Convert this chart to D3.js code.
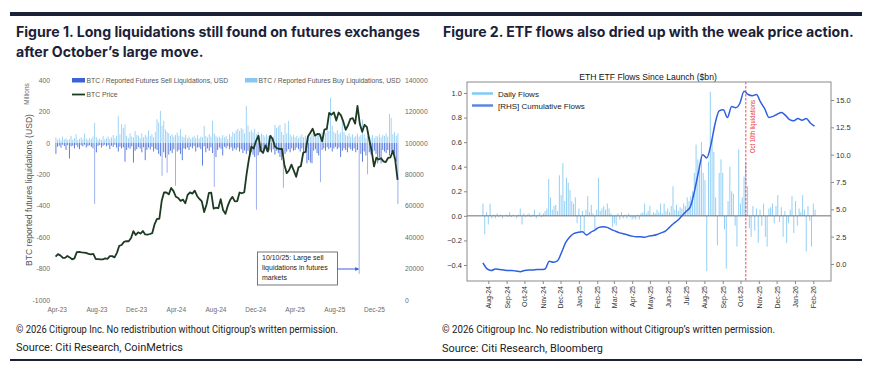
<!DOCTYPE html>
<html>
<head>
<meta charset="utf-8">
<script src="https://cdn.jsdelivr.net/npm/d3@7"></script>
<style>
  body { margin: 0; background: #fff; }
</style>
</head>
<body>
<svg id="chart" width="869" height="375" font-family="'Liberation Sans', Arial, sans-serif"></svg>
<script>
// ---------- Figure 1 data ----------
// liquidations, USD millions, one value every 5 days from 23 Apr 2023
const sellLiq = [
  -70, -25, -18, -30, -12, -20, -45, -15, -100, -22,
  -18, -35, -14, -28, -40, -16, -22, -12, -30, -20,
  -15, -25, -35, -388, -60, -20, -14, -30, -18, -12,
  -22, -15, -40, -18, -26, -12, -30, -55, -24, -35,
  -28, -120, -45, -30, -38, -22, -125, -50, -40, -26,
  -35, -60, -28, -110, -45, -30, -42, -25, -55, -38,
  -45, -70, -85, -210, -60, -95, -190, -75, -50, -65,
  -40, -273, -55, -45, -70, -110, -35, -40, -30, -45,
  -25, -35, -20, -55, -30, -28, -40, -145, -22, -60,
  -35, -50, -28, -65, -280, -90, -45, -30, -38, -80,
  -25, -35, -22, -40, -28, -50, -35, -45, -30, -55,
  -40, -65, -48, -70, -50, -85, -60, -75, -90, -426,
  -80, -60, -45, -70, -40, -55, -35, -48, -60, -40,
  -75, -50, -65, -90, -110, -286, -70, -55, -40, -60,
  -35, -50, -45, -30, -40, -55, -35, -60, -45, -130,
  -110, -125, -130, -50, -40, -65, -80, -250, -45, -35,
  -50, -28, -40, -30, -55, -35, -25, -40, -30, -90,
  -50, -35, -45, -60, -30, -40, -50, -35, -60, -45,
  -834, -70, -120, -55, -80, -200, -60, -75, -60, -50,
  -70, -130, -95, -130, -45, -55, -65, -45, -80, -60,
  -50, -70, -120, -390
];
const buyLiq = [
  35, 20, 28, 15, 40, 22, 30, 18, 25, 45,
  20, 30, 55, 18, 25, 35, 22, 60, 28, 20,
  30, 25, 40, 127, 35, 20, 28, 18, 45, 22,
  30, 40, 25, 35, 50, 28, 45, 172, 55, 120,
  95, 118, 45, 30, 60, 40, 35, 75, 50, 45,
  30, 60, 35, 50, 40, 80, 45, 55, 35, 70,
  150, 130, 204, 110, 140, 85, 70, 60, 45, 55,
  40, 50, 65, 45, 88, 40, 35, 50, 30, 40,
  25, 35, 45, 30, 50, 28, 40, 35, 108, 45,
  35, 55, 40, 140, 60, 45, 35, 40, 30, 50,
  35, 45, 25, 55, 40, 70, 60, 80, 90, 75,
  95, 85, 60, 235, 110, 70, 80, 65, 90, 55,
  70, 45, 60, 50, 40, 55, 45, 35, 50, 40,
  115, 95, 105, 115, 70, 50, 125, 60, 140, 55,
  40, 50, 35, 45, 30, 40, 55, 35, 45, 30,
  50, 40, 60, 80, 45, 55, 65, 50, 70, 90,
  60, 85, 75, 286, 110, 70, 60, 80, 55, 65,
  150, 70, 50, 45, 60, 40, 55, 35, 45, 60,
  40, 50, 150, 55, 30, 45, 40, 35, 50, 30,
  45, 40, 55, 35, 50, 45, 60, 40, 185, 160,
  55, 70, 45, 60
];
// BTC price in thousands USD, weekly from 22 Apr 2023
const btcPriceK = [
  27.6, 29.2, 28.4, 26.9, 26.8, 28.0, 27.1, 25.9, 26.5, 30.5,
  30.6, 30.3, 30.2, 30.0, 29.3, 29.0, 29.3, 26.1, 26.0, 25.9,
  25.8, 26.5, 26.2, 27.9, 27.9, 27.1, 30.0, 34.5, 35.0, 37.0,
  37.4, 37.4, 39.5, 43.8, 41.4, 43.0, 42.3, 43.9, 41.7, 41.6,
  42.0, 42.6, 48.3, 51.6, 51.7, 63.1, 68.5, 68.4, 67.2, 71.3,
  69.3, 65.7, 64.9, 63.1, 63.9, 61.5, 66.9, 68.5, 67.7, 69.6,
  66.2, 64.3, 62.7, 56.0, 60.8, 68.2, 68.3, 58.1, 58.7, 58.4,
  64.2, 57.3, 54.8, 59.9, 63.6, 65.6, 62.8, 62.9, 68.4, 67.9,
  68.6, 80.2, 89.9, 97.6, 96.4, 101.2, 104.5, 95.1, 93.7, 98.4,
  94.5, 104.5, 102.6, 97.7, 96.5, 96.1, 96.2, 86.1, 80.7, 82.6,
  86.1, 82.3, 78.4, 84.5, 85.2, 93.7, 94.3, 104.0, 106.4, 109.0,
  104.6, 105.7, 105.5, 101.0, 108.4, 108.9, 119.1, 117.9, 119.4, 114.2,
  119.3, 117.5, 113.5, 108.3, 111.2, 115.3, 115.7, 112.2, 123.5, 112.0,
  107.0, 111.5, 110.0, 102.0, 95.0, 85.0, 90.5, 89.4, 90.2, 88.2,
  87.8, 90.5, 90.8, 95.0, 89.2, 76.5
];
const liqTicks = [-1000, -800, -600, -400, -200, 0, 200, 400];
const priceTicks = [0, 20000, 40000, 60000, 80000, 100000, 120000, 140000];
const fig1Months = ["Apr-23", "Aug-23", "Dec-23", "Apr-24", "Aug-24", "Dec-24", "Apr-25", "Aug-25", "Dec-25"];

// ---------- Figure 2 data ----------
// daily ETF flows ($bn), one value every 3 days from 23 Jul 2024
const dailyFlows = [
  0.10, -0.15, 0.03, -0.07, 0.10, -0.02, 0.01, -0.02, 0.02, -0.01,
  0.01, -0.02, 0.00, 0.01, -0.01, 0.03, -0.01, 0.01, 0.00, -0.02,
  0.01, 0.06, -0.07, 0.02, -0.01, 0.01, 0.02, -0.01, 0.01, 0.05,
  -0.02, 0.01, 0.03, -0.01, 0.02, 0.04, 0.06, 0.30, 0.15, 0.05,
  0.08, 0.09, 0.04, 0.33, 0.17, 0.43, 0.12, 0.31, 0.27, 0.21,
  0.12, 0.10, 0.15, -0.06, 0.06, -0.13, 0.04, -0.13, 0.05, 0.16,
  0.03, 0.09, 0.02, -0.11, 0.05, 0.31, 0.04, 0.06, 0.08, 0.05,
  0.10, 0.06, 0.02, -0.09, -0.06, -0.08, 0.02, -0.03, 0.03, -0.02,
  0.01, -0.02, 0.02, -0.01, -0.03, -0.02, -0.03, 0.01, -0.03, 0.02,
  0.03, 0.10, 0.02, 0.04, 0.08, 0.01, 0.03, 0.02, 0.05, 0.03,
  0.10, 0.02, 0.10, 0.04, 0.06, 0.03, 0.08, 0.24, 0.05, 0.09,
  0.04, 0.07, 0.06, 0.10, 0.08, 0.15, 0.12, 0.16, 0.20, 0.35,
  0.58, 0.46, 0.37, 0.60, 0.35, 0.29, -0.45, 0.44, 1.01, 0.62,
  0.52, 0.15, -0.24, 0.35, 0.46, 0.35, -0.11, -0.43, 0.12, 0.40,
  0.20, 0.18, -0.08, -0.25, 0.54, 0.10, 0.15, 0.32, 0.43, 0.24,
  -0.10, -0.17, 0.08, -0.12, 0.06, -0.22, 0.05, -0.08, 0.10, -0.17,
  -0.25, 0.06, 0.07, 0.10, -0.06, 0.08, 0.17, -0.05, 0.07, -0.17,
  0.04, -0.22, -0.06, 0.05, 0.16, -0.14, 0.12, -0.08, 0.06, 0.03,
  0.17, 0.05, -0.29, 0.08, -0.04, -0.25, 0.10, 0.05
];
// cumulative flows ($bn), weekly from 23 Jul 2024
const cumFlows = [
  0.1, -0.45, -0.6, -0.45, -0.5, -0.55, -0.6, -0.6, -0.65, -0.7,
  -0.6, -0.55, -0.55, -0.5, -0.5, -0.45, 0.25, 0.15, 0.3, 1.1,
  2.0, 2.5, 2.8, 2.9, 2.95, 2.65, 2.9, 3.1, 3.35, 3.4,
  3.35, 3.15, 3.0, 2.85, 2.75, 2.65, 2.55, 2.5, 2.5, 2.45,
  2.55, 2.6, 2.7, 2.85, 3.0, 3.35, 3.7, 4.0, 4.4, 4.8,
  5.2, 6.6, 8.4, 10.0, 9.7, 10.9, 12.8, 14.0, 14.1, 13.4,
  14.4, 14.3, 14.7, 15.8, 15.5, 15.4, 15.5, 14.8, 14.2, 13.4,
  13.5, 13.7, 13.85, 13.6, 13.2, 13.1, 13.3, 13.15, 13.3, 12.9,
  12.6
];
const flowTicks = [-0.4, -0.2, 0.0, 0.2, 0.4, 0.6, 0.8, 1.0];
const cumTicks = [0, 2.5, 5, 7.5, 10, 12.5, 15];

const NAVY = "#1b2238";
const TITLE_FONT = "Inter, 'Noto Sans', sans-serif";
const FOOT_FONT = "Roboto, 'Noto Sans', sans-serif";
const svg = d3.select("svg#chart");

// rules
svg.append("rect").attr("x", 10).attr("y", 12).attr("width", 852).attr("height", 4).attr("fill", NAVY);
svg.append("rect").attr("x", 10).attr("y", 359).attr("width", 852).attr("height", 2).attr("fill", NAVY);

function fitWidth(sel, w) {
    const fs = parseFloat(sel.attr("font-size"));
    const len = sel.node().getComputedTextLength();
    sel.attr("font-size", fs * w / len);
    return fs * w / len;
}

// titles
const t1 = svg.append("text").attr("x", 16).attr("y", 37)
    .attr("font-family", TITLE_FONT).attr("font-weight", 700)
    .attr("font-size", 12).attr("fill", NAVY)
    .text("Figure 1. Long liquidations still found on futures exchanges");
const t1size = fitWidth(t1, 404);
svg.append("text").attr("x", 16).attr("y", 57)
    .attr("font-family", TITLE_FONT).attr("font-weight", 700)
    .attr("font-size", t1size).attr("fill", NAVY)
    .text("after October’s large move.");
const t2 = svg.append("text").attr("x", 443).attr("y", 37)
    .attr("font-family", TITLE_FONT).attr("font-weight", 700)
    .attr("font-size", 12).attr("fill", NAVY)
    .text("Figure 2. ETF flows also dried up with the weak price action.");
fitWidth(t2, 411);

// footers
const footers = [
    [16, 333, 322, "© 2026 Citigroup Inc. No redistribution without Citigroup’s written permission."],
    [16, 351, 167, "Source: Citi Research, CoinMetrics"],
    [442, 333, 333, "© 2026 Citigroup Inc. No redistribution without Citigroup’s written permission."],
    [442, 352, 161, "Source: Citi Research, Bloomberg"]
];
footers.forEach(f => {
    svg.append("text").attr("x", f[0]).attr("y", f[1])
        .attr("font-family", FOOT_FONT)
        .attr("font-size", f[1] > 340 ? 11 : 10).attr("fill", "#222")
        .attr("textLength", f[2]).attr("lengthAdjust", "spacingAndGlyphs")
        .text(f[3]);
});

// ================= Figure 1 =================
const liqStart = new Date(Date.UTC(2023, 3, 23));
const priceStart = new Date(Date.UTC(2023, 3, 22));
const xL = d3.scaleUtc()
    .domain([new Date(Date.UTC(2023, 7, 17)), new Date(Date.UTC(2025, 9, 10))])
    .range([95, 359.5]);
const xLabel = d3.scaleUtc()
    .domain([new Date(Date.UTC(2023, 3, 1)), new Date(Date.UTC(2025, 11, 1))])
    .range([56.7, 374]);
const yL = d3.scaleLinear().domain([-1000, 400]).range([300, 80]);
const yP = d3.scaleLinear().domain([0, 140000]).range([300, 80]);

const fig1 = svg.append("g").attr("id", "fig1");
const liqDate = i => d3.utcDay.offset(liqStart, i * 5);

fig1.append("g").selectAll("rect").data(sellLiq).join("rect")
    .attr("x", (d, i) => xL(liqDate(i)) - 0.45)
    .attr("width", 0.9)
    .attr("y", yL(0))
    .attr("height", d => yL(d) - yL(0))
    .attr("fill", "#3b62d8")
    .attr("fill-opacity", d => d < -150 ? 0.55 : 0.9);
fig1.append("g").selectAll("rect").data(buyLiq).join("rect")
    .attr("x", (d, i) => xL(liqDate(i)) - 0.45)
    .attr("width", 0.9)
    .attr("y", d => yL(d))
    .attr("height", d => yL(0) - yL(d))
    .attr("fill", "#86c7f3")
    .attr("fill-opacity", 0.85);

const priceLine = d3.line()
    .x((d, i) => xL(d3.utcDay.offset(priceStart, i * 7)))
    .y(d => yP(d * 1000));
fig1.append("path").datum(btcPriceK)
    .attr("fill", "none").attr("stroke", "#1d3a22").attr("stroke-width", 1.8)
    .attr("stroke-linejoin", "round")
    .attr("d", priceLine);

// axes
function styleAxis(g, size, color) {
    g.select(".domain").remove();
    g.attr("font-size", size).attr("font-family", "'Liberation Sans', Arial, sans-serif").attr("color", color);
}
const leftAx = fig1.append("g").attr("transform", "translate(50,0)")
    .call(d3.axisLeft(yL).tickValues(liqTicks).tickSize(0).tickPadding(0).tickFormat(d => String(d)));
styleAxis(leftAx, 6.8, "#6b6b6b");
const rightAx = fig1.append("g").attr("transform", "translate(404,0)")
    .call(d3.axisRight(yP).tickValues(priceTicks).tickSize(0).tickPadding(1).tickFormat(d => String(d)));
styleAxis(rightAx, 6.8, "#6b6b6b");
const monthDates = fig1Months.map((m, k) => d3.utcMonth.offset(new Date(Date.UTC(2023, 3, 1)), 4 * k));
const bottomAx = fig1.append("g").attr("transform", "translate(0,305)")
    .call(d3.axisBottom(xLabel).tickValues(monthDates).tickSize(0).tickPadding(2)
        .tickFormat((d, i) => fig1Months[i]));
styleAxis(bottomAx, 6.5, "#6b6b6b");

fig1.append("text").attr("transform", "translate(29,94) rotate(-90)")
    .attr("text-anchor", "middle").attr("font-size", 6.5).attr("fill", "#6b6b6b")
    .text("Millions");
fig1.append("text").attr("transform", "translate(32,190) rotate(-90)")
    .attr("text-anchor", "middle").attr("font-size", 8.6).attr("fill", "#555")
    .text("BTC reported futures liquidations (USD)");

// legend
const lg = fig1.append("g").attr("font-size", 6.8).attr("fill", "#555");
lg.append("rect").attr("x", 72).attr("y", 78).attr("width", 13).attr("height", 4.5).attr("fill", "#3b62d8");
lg.append("text").attr("x", 86.5).attr("y", 83).text("BTC / Reported Futures Sell Liquidations, USD");
lg.append("rect").attr("x", 245).attr("y", 78).attr("width", 12.5).attr("height", 4.5).attr("fill", "#86c7f3");
lg.append("text").attr("x", 258.5).attr("y", 83).text("BTC / Reported Futures Buy Liquidations, USD");
lg.append("line").attr("x1", 72).attr("x2", 85).attr("y1", 94.5).attr("y2", 94.5)
    .attr("stroke", "#1d3a22").attr("stroke-width", 1.8);
lg.append("text").attr("x", 86.5).attr("y", 97).text("BTC Price");

// annotation
const defs = svg.append("defs");
defs.append("marker").attr("id", "arrow").attr("viewBox", "0 0 6 6")
    .attr("refX", 5).attr("refY", 3).attr("markerWidth", 4).attr("markerHeight", 4)
    .attr("orient", "auto")
    .append("path").attr("d", "M0,0 L6,3 L0,6 Z").attr("fill", "#3b62d8");
const crashX = xL(new Date(Date.UTC(2025, 9, 10)));
fig1.append("line").attr("x1", 337.5).attr("x2", crashX - 1).attr("y1", 269).attr("y2", 269)
    .attr("stroke", "#3b62d8").attr("stroke-width", 1).attr("marker-end", "url(#arrow)");
fig1.append("rect").attr("x", 257.5).attr("y", 252).attr("width", 80).attr("height", 33)
    .attr("fill", "#fff").attr("stroke", "#555").attr("stroke-width", 0.8);
["10/10/25: Large sell", "liquidations in futures", "markets"].forEach((s, k) => {
    fig1.append("text").attr("x", 262).attr("y", 259.5 + k * 10)
        .attr("font-size", 7).attr("fill", "#222").text(s);
});

// ================= Figure 2 =================
const fig2 = svg.append("g").attr("id", "fig2");
const flowStart = new Date(Date.UTC(2024, 6, 23));
const xR = d3.scaleUtc()
    .domain([new Date(Date.UTC(2024, 7, 1)), new Date(Date.UTC(2026, 1, 1))])
    .range([488.3, 813.3]);
const yR = d3.scaleLinear().domain([-0.4, 1.0]).range([265, 93]);
const yC = d3.scaleLinear().domain([0, 15]).range([264, 100]);
const frame = { x0: 467, x1: 831, y0: 82, y1: 281 };

fig2.append("text").attr("x", 648).attr("y", 79.5).attr("text-anchor", "middle")
    .attr("font-size", 8.6).attr("fill", "#111").text("ETH ETF Flows Since Launch ($bn)");

fig2.append("g").selectAll("rect").data(dailyFlows).join("rect")
    .attr("x", (d, i) => xR(d3.utcDay.offset(flowStart, i * 3)) - 0.5)
    .attr("width", 1)
    .attr("y", d => Math.min(yR(d), yR(0)))
    .attr("height", d => Math.abs(yR(d) - yR(0)))
    .attr("fill", "#6fbff2")
    .attr("fill-opacity", 0.75);

fig2.append("line").attr("x1", frame.x0).attr("x2", frame.x1).attr("y1", yR(0)).attr("y2", yR(0))
    .attr("stroke", "#6e6e6e").attr("stroke-width", 1);

const octX = xR(new Date(Date.UTC(2025, 9, 10)));
fig2.append("line").attr("x1", octX).attr("x2", octX).attr("y1", frame.y0).attr("y2", frame.y1)
    .attr("stroke", "#e8343c").attr("stroke-width", 0.9).attr("stroke-dasharray", "2.5,1.5");
fig2.append("text").attr("transform", `translate(${octX + 9},100) rotate(-90)`)
    .attr("text-anchor", "end").attr("font-size", 6.5).attr("fill", "#e8343c")
    .attr("textLength", 53).attr("lengthAdjust", "spacingAndGlyphs")
    .text("Oct 10th liquidations");

const cumLine = d3.line()
    .x((d, i) => xR(d3.utcDay.offset(flowStart, i * 7)))
    .y(d => yC(d))
    .curve(d3.curveMonotoneX);
fig2.append("path").datum(cumFlows)
    .attr("fill", "none").attr("stroke", "#2d5fe0").attr("stroke-width", 1.5)
    .attr("d", cumLine);

fig2.append("rect").attr("x", frame.x0).attr("y", frame.y0)
    .attr("width", frame.x1 - frame.x0).attr("height", frame.y1 - frame.y0)
    .attr("fill", "none").attr("stroke", "#8a8a8a").attr("stroke-width", 1);

const fmt1 = d3.format(".1f");
const rl = fig2.append("g").attr("transform", `translate(${frame.x0},0)`)
    .call(d3.axisLeft(yR).tickValues(flowTicks).tickSize(3).tickPadding(2).tickFormat(fmt1));
styleAxis(rl, 7.5, "#333");
rl.selectAll("line").attr("stroke", "#8a8a8a");
const rr = fig2.append("g").attr("transform", `translate(${frame.x1},0)`)
    .call(d3.axisRight(yC).tickValues(cumTicks).tickSize(3).tickPadding(2).tickFormat(fmt1));
styleAxis(rr, 7.5, "#333");
rr.selectAll("line").attr("stroke", "#8a8a8a");
const rb = fig2.append("g").attr("transform", `translate(0,${frame.y1})`)
    .call(d3.axisBottom(xR)
        .tickValues(d3.utcMonth.range(new Date(Date.UTC(2024, 7, 1)), new Date(Date.UTC(2026, 1, 2))))
        .tickSize(3).tickFormat(d3.utcFormat("%b-%y")));
styleAxis(rb, 7, "#333");
rb.selectAll("line").attr("stroke", "#8a8a8a");
rb.selectAll("text")
    .attr("transform", "rotate(-90)")
    .attr("text-anchor", "end")
    .attr("x", -5).attr("y", 0).attr("dy", "0.35em");

// legend
const lg2 = fig2.append("g").attr("font-size", 8).attr("fill", "#222");
lg2.append("line").attr("x1", 472).attr("x2", 493).attr("y1", 93.5).attr("y2", 93.5)
    .attr("stroke", "#7ecbf8").attr("stroke-width", 2.5);
lg2.append("text").attr("x", 498).attr("y", 96.5).text("Daily Flows");
lg2.append("line").attr("x1", 472).attr("x2", 493).attr("y1", 105.5).attr("y2", 105.5)
    .attr("stroke", "#5d86e3").attr("stroke-width", 2.5);
lg2.append("text").attr("x", 498).attr("y", 108.5).text("[RHS] Cumulative Flows");
</script>
</body>
</html>
